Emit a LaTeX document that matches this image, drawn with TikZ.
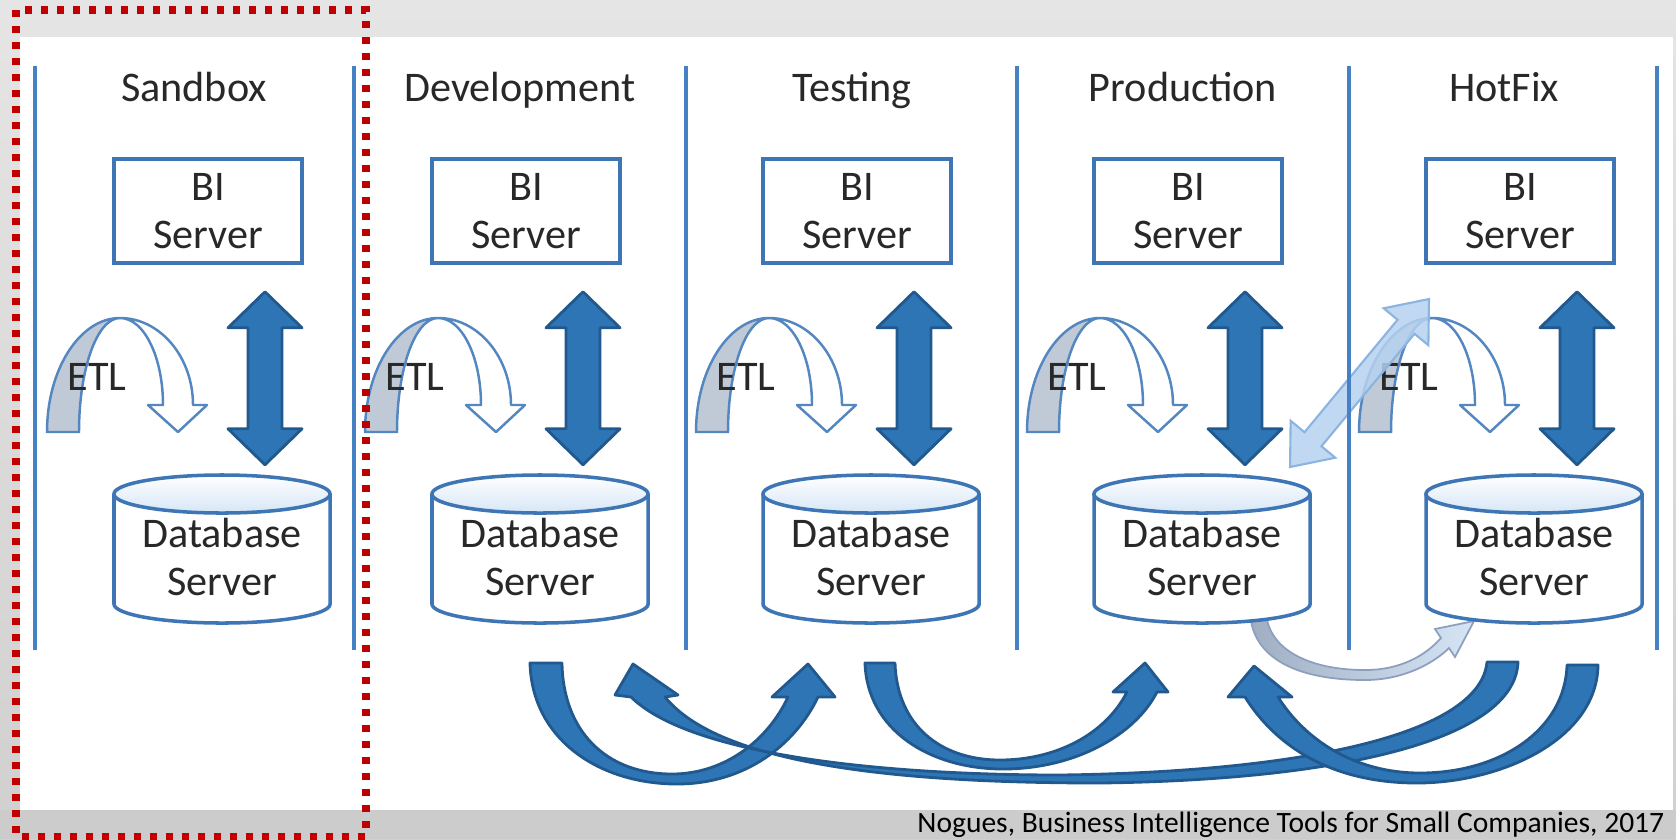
\documentclass[tikz,border=0pt]{standalone}
\usepackage{fontspec}
\setmainfont{Carlito}
\usetikzlibrary{shapes, arrows, positioning, calc}

\definecolor{bgtop}{RGB}{229,229,229}
\definecolor{bgbottom}{RGB}{208,208,208}
\definecolor{footgrey}{RGB}{204,204,204}
\definecolor{frameblue}{RGB}{70,130,195}
\definecolor{boxblue}{RGB}{62,117,180}
\definecolor{dbsheen}{RGB}{214,230,246}
\definecolor{arrowfill}{RGB}{46,117,182}
\definecolor{arrowline}{RGB}{33,88,142}
\definecolor{etlgrey}{RGB}{192,202,214}
\definecolor{etlline}{RGB}{84,134,192}
\definecolor{lightfill}{RGB}{182,210,240}
\definecolor{lightline}{RGB}{140,180,225}
\definecolor{copygrey}{RGB}{160,174,194}
\definecolor{copyblue}{RGB}{214,229,246}
\definecolor{copyline}{RGB}{140,160,190}
\definecolor{textgrey}{RGB}{40,40,40}
\definecolor{markred}{RGB}{192,0,0}

\tikzset{
  coltitle/.style={font=\fontsize{12}{13.6}\selectfont, text=textgrey, anchor=base, inner sep=0pt},
  bibox/.style={draw=boxblue, line width=1pt, fill=white, minimum width=1.88cm, minimum height=1.04cm,
    align=center, font=\fontsize{12}{13.6}\selectfont, text=textgrey, inner sep=0pt},
  dbtext/.style={align=center, font=\fontsize{12}{13.6}\selectfont, text=textgrey, inner sep=0pt},
  dbline/.style={draw=boxblue, line width=1pt},
  etl/.style={font=\fontsize{12}{13.6}\selectfont, text=textgrey, anchor=base, inner sep=0pt},
  bigarrow/.style={fill=arrowfill, draw=arrowline, line width=0.8pt, line join=round},
  etlback/.style={fill=etlgrey, draw=etlline, line width=0.7pt},
  etlfront/.style={fill=white, draw=etlline, line width=0.7pt, line join=round},
  colline/.style={draw=frameblue, line width=1pt},
}

\begin{document}
\begin{tikzpicture}[x=0.01cm, y=-0.01cm]
\useasboundingbox (0,0) rectangle (1676,839);
\shade[top color=bgtop, bottom color=bgbottom] (0,0) rectangle (1676,839);
\fill[white] (20,37) rectangle (1673,810);
\fill[footgrey] (0,810) rectangle (1676,839);

\draw[left color=copygrey, right color=copyblue, draw=copyline, line width=0.5pt]
  (1250,612) .. controls (1252,660) and (1300,680) .. (1365,680) .. controls (1405,680) and (1435,662) .. (1449,648)
  -- (1455,657) -- (1474,621) -- (1435,629) -- (1441,638)
  .. controls (1425,656) and (1400,670) .. (1365,670) .. controls (1310,670) and (1268,650) .. (1266,612) -- cycle;

\foreach \dx/\tx/\name [count=\i] in {0/194/Sandbox, 318/520/Development, 649/852/Testing, 980/1183/Production, 1312/1504/HotFix}{
  \node[coltitle] (t\i) at (\tx,101) {\name};
  \node[bibox] (bi\i) at (208+\dx,211) {BI\\Server};
  \begin{scope}[shift={(\dx,0)}]
    \fill[white] (114,494) -- (114,604) arc[start angle=180, end angle=360, x radius=1.08cm, y radius=0.19cm] -- (330,494) -- cycle;
    \draw[dbline] (114,494) -- (114,604) arc[start angle=180, end angle=360, x radius=1.08cm, y radius=0.19cm] -- (330,494);
    \draw[dbline, top color=white, bottom color=dbsheen] (222,494) ellipse [x radius=1.08cm, y radius=0.19cm];
    \draw[etlback] (47,432) .. controls (47,369) and (80,318) .. (120,318) .. controls (97,318) and (79,369) .. (79,432) -- cycle;
    \draw[etlfront] (120,318) .. controls (160,318) and (193,357) .. (193,405) -- (207,405) -- (178,432) -- (148,405) -- (163,405)
      .. controls (163,357) and (144,318) .. (120,318) -- cycle;
  \end{scope}
  \node[dbtext] (db\i) at (222+\dx,557) {Database\\Server};
  \node[etl] (etl\i) at (97+\dx,390) {ETL};
  \coordinate (up\i) at ($(bi\i.south)+(57,27)$);
  \coordinate (dn\i) at ($(up\i)+(0,173)$);
  \draw[bigarrow] (up\i) -- ++(37,36) -- ++(-20,0) -- ++(0,101) -- ++(20,0) -- (dn\i)
    -- ++(-37,-36) -- ++(20,0) -- ++(0,-101) -- ++(-20,0) -- cycle;
}

\begin{scope}[shift={(1359.5,383)}, rotate=50.4]
  \draw[fill=lightfill, draw=lightline, line width=0.6pt, fill opacity=0.85]
    (109,0) -- (73,29) -- (73,11) -- (-73,11) -- (-73,29) -- (-109,0) -- (-73,-29) -- (-73,-11) -- (73,-11) -- (73,-29) -- cycle;
\end{scope}

\draw[bigarrow] (530,663) .. controls (532,740) and (600,784) .. (677,784) .. controls (745,784) and (795,745) .. (818,697)
  -- (835,697) -- (808,664) -- (772,697) -- (788,697)
  .. controls (768,740) and (725,774) .. (672,774) .. controls (605,774) and (563,730) .. (562,663) -- cycle;
\draw[bigarrow] (865,663) .. controls (867,730) and (930,769) .. (1003,769) .. controls (1075,769) and (1135,735) .. (1157,692)
  -- (1168,692) -- (1145,663) -- (1113,692) -- (1127,692)
  .. controls (1105,735) and (1055,760) .. (1000,760) .. controls (940,760) and (897,725) .. (895,663) -- cycle;
\draw[bigarrow] (1518,662) .. controls (1515,740) and (1340,780) .. (1100,783) .. controls (900,783) and (720,765) .. (665,697)
  -- (678,695) -- (633,664) -- (615,695) -- (631,697)
  .. controls (690,755) and (880,775) .. (1060,775) .. controls (1300,772) and (1480,735) .. (1487,662) -- cycle;
\draw[bigarrow] (1598,665) .. controls (1597,740) and (1500,783) .. (1417,783) .. controls (1330,783) and (1275,745) .. (1245,697)
  -- (1228,697) -- (1254,666) -- (1292,697) -- (1278,697)
  .. controls (1305,740) and (1355,773) .. (1420,773) .. controls (1500,773) and (1565,730) .. (1567,665) -- cycle;

\foreach \lx in {35,354,686,1017,1349,1657}
  \draw[colline] (\lx,66) -- (\lx,650);

\node[anchor=base east, font=\fontsize{8.4}{10}\selectfont, inner sep=0pt] (source) at (1665,832)
  {Nogues, Business Intelligence Tools for Small Companies, 2017};

\draw[markred, line width=2pt, dash pattern=on 2pt off 2.55pt] (16,10) rectangle (366,836);
\end{tikzpicture}
\end{document}
